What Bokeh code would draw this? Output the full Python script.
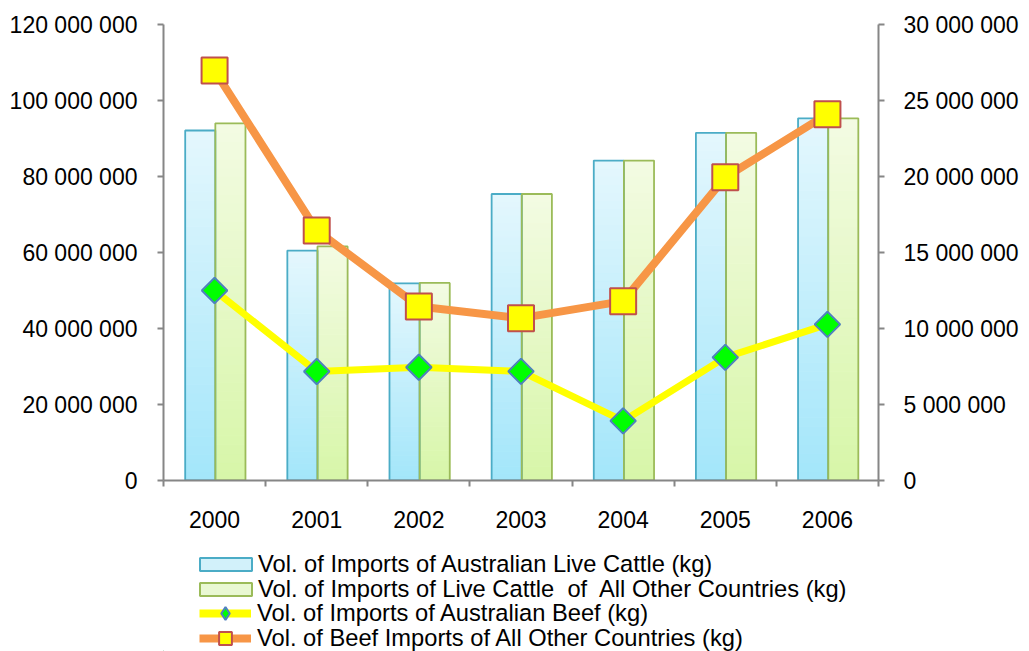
import numpy as np
from bokeh.plotting import figure
from bokeh.layouts import column
from bokeh.models import (Range1d, LinearAxis, FixedTicker, CustomJSTickFormatter,
                          ColumnDataSource, Legend, LegendItem)
from bokeh.embed import file_html
from bokeh.resources import INLINE

# ---------------- data ----------------
years = ["2000", "2001", "2002", "2003", "2004", "2005", "2006"]
aus_live_cattle = [92.1e6, 60.5e6, 51.9e6, 75.4e6, 84.2e6, 91.5e6, 95.3e6]
other_live_cattle = [94.0e6, 61.6e6, 52.0e6, 75.4e6, 84.2e6, 91.5e6, 95.3e6]
aus_beef = [12.5e6, 7.17e6, 7.45e6, 7.18e6, 3.92e6, 8.1e6, 10.27e6]
other_beef = [26.97e6, 16.45e6, 11.45e6, 10.68e6, 11.8e6, 19.95e6, 24.1e6]
left_ticks = [0, 20e6, 40e6, 60e6, 80e6, 100e6, 120e6]
right_ticks = [0, 5e6, 10e6, 15e6, 20e6, 25e6, 30e6]

labels = [
    "Vol. of Imports of Australian Live Cattle (kg)",
    "Vol. of Imports of Live Cattle  of  All Other Countries (kg)",
    "Vol. of Imports of Australian Beef (kg)",
    "Vol. of Beef Imports of All Other Countries (kg)",
]

FONT = "Liberation Sans"
AXIS_COLOR = "#868686"
BLUE_EDGE, GREEN_EDGE = "#4bacc6", "#9bbb59"
YELLOW, ORANGE = "#FFFF00", "#F79646"

n = len(years)
xc = [i + 0.5 for i in range(n)]

p = figure(width=1029, height=540, x_range=Range1d(0, n), y_range=Range1d(0, 120e6),
           output_backend="svg", toolbar_location=None,
           min_border_left=163, min_border_right=151, min_border_top=24, min_border_bottom=60)
p.extra_y_ranges = {"right": Range1d(0, 30e6)}
p.outline_line_color = None
p.xgrid.visible = False
p.ygrid.visible = False

# ---------------- gradient bars ----------------
N = 40


def hex2rgb(h):
    h = h.lstrip("#")
    return [int(h[i:i + 2], 16) for i in (0, 2, 4)]


def grad_source(vals, offset, c_bottom, c_top):
    cb, ct = hex2rgb(c_bottom), hex2rgb(c_top)
    xs, bots, tops, cols = [], [], [], []
    for i, v in enumerate(vals):
        for k in range(N):
            t = (k + 0.5) / N
            rgb = [round(cb[j] + (ct[j] - cb[j]) * t) for j in range(3)]
            xs.append(i + 0.5 + offset)
            bots.append(v * k / N)
            tops.append(v * (k + 1) / N)
            cols.append("#%02x%02x%02x" % tuple(rgb))
    return ColumnDataSource(dict(x=xs, bottom=bots, top=tops, color=cols))


BW = 0.295
OFF_B = -0.14
OFF_G = 0.155

p.vbar(x="x", bottom="bottom", top="top", width=BW, fill_color="color", line_color="color",
       line_width=1, source=grad_source(aus_live_cattle, OFF_B, "#a3e6fa", "#e4f7fd"))
p.vbar(x="x", bottom="bottom", top="top", width=BW, fill_color="color", line_color="color",
       line_width=1, source=grad_source(other_live_cattle, OFF_G, "#d7f6a8", "#f3fbe3"))

p.vbar(x=[c + OFF_B for c in xc], top=aus_live_cattle, width=BW, fill_color=None,
       line_color=BLUE_EDGE, line_width=1.8)
p.vbar(x=[c + OFF_G for c in xc], top=other_live_cattle, width=BW, fill_color=None,
       line_color=GREEN_EDGE, line_width=1.8)

# ---------------- lines ----------------
p.line(x=xc, y=aus_beef, y_range_name="right", line_color=YELLOW, line_width=7,
       line_join="round")
p.scatter(x=xc, y=aus_beef, y_range_name="right", marker="square", size=18, angle=np.pi / 4,
          fill_color="#00FF00", line_color="#4F81BD", line_width=2)

p.line(x=xc, y=other_beef, y_range_name="right", line_color=ORANGE, line_width=8,
       line_join="round")
p.scatter(x=xc, y=other_beef, y_range_name="right", marker="square", size=26,
          fill_color="#FFFF00", line_color="#C0504D", line_width=2)

# ---------------- axes ----------------
fmt = CustomJSTickFormatter(code="""
    return Math.round(tick).toString().replace(/\\B(?=(\\d{3})+(?!\\d))/g, ' ');
""")

xa = p.xaxis[0]
xa.ticker = FixedTicker(ticks=xc, minor_ticks=list(range(n + 1)))
xa.major_label_overrides = {c: y for c, y in zip(xc, years)}
xa.major_tick_out = 0
xa.major_tick_in = 0
xa.minor_tick_out = 6
xa.minor_tick_in = 0
xa.minor_tick_line_color = AXIS_COLOR
xa.minor_tick_line_width = 2
xa.axis_line_color = AXIS_COLOR
xa.axis_line_width = 2
xa.major_label_text_font = FONT
xa.major_label_text_font_size = "23px"
xa.major_label_text_color = "#000000"
xa.major_label_standoff = 24

ya = p.yaxis[0]
ya.ticker = FixedTicker(ticks=left_ticks, minor_ticks=[])
ya.formatter = fmt
ya.major_tick_out = 6
ya.major_tick_in = 0
ya.minor_tick_out = 0
ya.minor_tick_in = 0
ya.major_tick_line_color = AXIS_COLOR
ya.major_tick_line_width = 2
ya.axis_line_color = AXIS_COLOR
ya.axis_line_width = 2
ya.major_label_text_font = FONT
ya.major_label_text_font_size = "23px"
ya.major_label_text_color = "#000000"
ya.major_label_standoff = 20

ra = LinearAxis(y_range_name="right", ticker=FixedTicker(ticks=right_ticks, minor_ticks=[]),
                formatter=fmt)
ra.major_tick_out = 6
ra.major_tick_in = 0
ra.minor_tick_out = 0
ra.minor_tick_in = 0
ra.major_tick_line_color = AXIS_COLOR
ra.major_tick_line_width = 2
ra.axis_line_color = AXIS_COLOR
ra.axis_line_width = 2
ra.major_label_text_font = FONT
ra.major_label_text_font_size = "23px"
ra.major_label_text_color = "#000000"
ra.major_label_standoff = 19
p.add_layout(ra, "right")

# ---------------- legend (separate strip below, frame aligned with plot) ----------------
lg = figure(width=1029, height=111, x_range=Range1d(0, 1), y_range=Range1d(0, 1),
            output_backend="svg", toolbar_location=None, x_axis_location=None,
            y_axis_location=None, min_border=0)
lg.outline_line_color = None
lg.xgrid.visible = False
lg.ygrid.visible = False

# legend proxies, placed far outside the visible ranges
d_blue = lg.vbar(x=[-50], top=[-50], bottom=[-51], width=0.3, fill_color="#d2f1fa",
                 line_color=BLUE_EDGE, line_width=2)
d_green = lg.vbar(x=[-50], top=[-50], bottom=[-51], width=0.3, fill_color="#e9f8d3",
                  line_color=GREEN_EDGE, line_width=2)
d_yl = lg.line(x=[-50, -49], y=[-50, -50], line_color=YELLOW, line_width=8)
d_dia = lg.scatter(x=[-50], y=[-50], marker="diamond", size=10, fill_color="#00FF00",
                   line_color="#4F81BD", line_width=2)
d_ol = lg.line(x=[-50, -49], y=[-50, -50], line_color=ORANGE, line_width=8)
d_sq = lg.scatter(x=[-50], y=[-50], marker="square", size=10, fill_color="#FFFF00",
                  line_color="#C0504D", line_width=2)

common = dict(orientation="vertical", padding=0, margin=0, border_line_color=None,
              background_fill_alpha=0, label_text_font=FONT, label_text_font_size="23.7px",
              label_text_color="#000000", label_height=28, spacing=0)

specs = [
    (labels[0], [d_blue], (30, 73), 65, 16, 0),
    (labels[1], [d_green], (30, 48), 65, 16, 0),
    (labels[2], [d_yl, d_dia], (36, 22), 52, 32, 6),
    (labels[3], [d_ol, d_sq], (36, -3), 52, 32, 6),
]
for lab, rends, loc, gw, gh, so in specs:
    lg.add_layout(Legend(items=[LegendItem(label=lab, renderers=rends)], location=loc,
                         glyph_width=gw, glyph_height=gh, label_standoff=so, **common))

open("out.html", "w").write(file_html(column(p, lg, spacing=0), INLINE))
